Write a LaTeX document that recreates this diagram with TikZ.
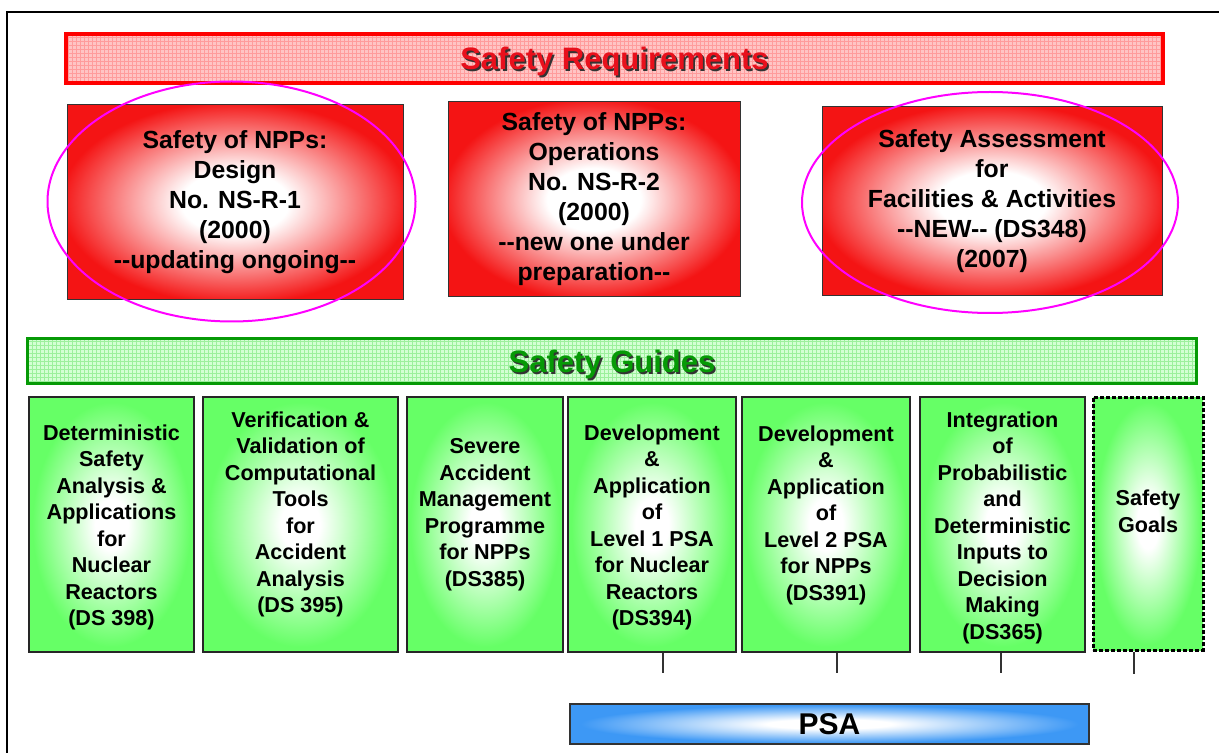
\documentclass[tikz,border=0pt]{standalone}
\usepackage{fontspec}
\setmainfont{Liberation Sans}
\usepackage{xcolor}
\definecolor{reqred}{HTML}{F41414}
\definecolor{reqtitle}{HTML}{E8101C}
\definecolor{reqpink}{HTML}{FFC4C4}
\definecolor{reqgrid}{HTML}{FF9C9C}
\definecolor{guidegreen}{HTML}{66FF66}
\definecolor{guidedark}{HTML}{069A06}
\definecolor{guidepale}{HTML}{D4FFD4}
\definecolor{guidegrid}{HTML}{9CF09C}
\definecolor{psablue}{HTML}{3D98F5}
\definecolor{hilitemag}{HTML}{FF00FF}
\usetikzlibrary{shapes.geometric,patterns.meta}
\pgfdeclareradialshading{reqglow}{\pgfpoint{0bp}{0bp}}{color(0bp)=(white);color(8bp)=(white);color(26bp)=(reqred);color(50bp)=(reqred)}
\pgfdeclareradialshading{guideglow}{\pgfpoint{0bp}{0bp}}{color(0bp)=(white);color(5bp)=(white);color(24bp)=(guidegreen);color(50bp)=(guidegreen)}
\pgfdeclareradialshading{psaglow}{\pgfpoint{0bp}{0bp}}{color(0bp)=(white);color(6bp)=(white);color(24bp)=(psablue);color(50bp)=(psablue)}
\newcommand{\ddash}{-\kern0pt-}
\newcommand{\shadowtitle}[2]{\makebox[0pt][l]{\kern0.9pt\raisebox{-0.9pt}{\color{black!80}#2}}{\color{#1}#2}}
\tikzset{
  reqbanner/.style={draw=red,line width=2pt,preaction={fill=reqpink},pattern={Hatch[angle=0,distance=2pt,line width=0.35pt]},pattern color=reqgrid,minimum width=548.5pt,minimum height=24.5pt,inner sep=0pt,text depth=0pt,font=\bfseries\fontsize{15.5}{18}\selectfont},
  reqbox/.style={draw=black!80,line width=0.5pt,shade,shading=reqglow,align=center,inner sep=2pt,font=\bfseries\fontsize{12.4}{15}\selectfont},
  hilite/.style={ellipse,draw=hilitemag,line width=1pt,inner sep=0pt},
  guidebanner/.style={draw=guidedark,line width=1.5pt,preaction={fill=guidepale},pattern={Hatch[angle=0,distance=2pt,line width=0.35pt]},pattern color=guidegrid,minimum width=584.5pt,minimum height=22.5pt,inner sep=0pt,text depth=0pt,font=\bfseries\fontsize{15.5}{18}\selectfont},
  guidebox/.style={draw=black!85,line width=0.75pt,shade,shading=guideglow,minimum height=127.5pt},
  guidetext/.style={align=center,inner sep=0pt,font=\bfseries\fontsize{10.8}{13.25}\selectfont},
  goalbox/.style={guidebox,draw=black,line width=1.5pt,dash pattern=on 2.2pt off 0.8pt},
  tickline/.style={draw=black!80,line width=0.6pt},
  psabar/.style={draw=black!80,line width=0.6pt,shade,shading=psaglow,minimum width=259.5pt,minimum height=20pt,inner sep=0pt,text depth=0pt,font=\bfseries\fontsize{15}{18}\selectfont},
}
\begin{document}
\begin{tikzpicture}[x=0.5pt,y=-0.5pt]
\useasboundingbox (0,0) rectangle (1219,753);
\draw[line width=1pt] (7,753) -- (7,12) -- (1219,12);
% requirements row
\node[reqbanner] (req) at (614.5,58.5) {\shadowtitle{reqtitle}{Safety Requirements}};
\node[reqbox,minimum width=168pt,minimum height=97.5pt] (nsr1) at (235,202.5) {Safety of NPPs:\\Design\\No. NS-R-1\\(2000)\\\ddash updating ongoing\ddash};
\node[reqbox,minimum width=146pt,minimum height=97.5pt] (nsr2) at (594,199.5) {Safety of NPPs:\\Operations\\No. NS-R-2\\(2000)\\\ddash new one under\\preparation\ddash};
\node[reqbox,minimum width=170pt,minimum height=94.5pt] (ds348) at (992,201.5) {Safety Assessment\\for\\Facilities \& Activities\\\ddash NEW\ddash{} (DS348)\\(2007)};
\node[hilite,minimum width=184pt,minimum height=120pt] (ring1) at (231.5,201.5) {};
\node[hilite,minimum width=188pt,minimum height=110.5pt] (ring2) at (990,202.5) {};
% guides row
\node[guidebanner] (guide) at (612,361) {\shadowtitle{guidedark}{Safety Guides}};
\node[guidebox,minimum width=82.5pt,label={[guidetext,yshift=-1.5pt]center:{Deterministic\\Safety\\Analysis \&\\Applications\\for\\Nuclear\\Reactors\\(DS 398)}}] (ds398) at (111.5,524.5) {};
\node[guidebox,minimum width=97.5pt,label={[guidetext,yshift=5pt]center:{Verification \&\\Validation of\\Computational\\Tools\\for\\Accident\\Analysis\\(DS 395)}}] (ds395) at (300.5,524.5) {};
\node[guidebox,minimum width=78pt,label={[guidetext,yshift=5pt]center:{Severe\\Accident\\Management\\Programme\\for NPPs\\(DS385)}}] (ds385) at (485,524.5) {};
\node[guidebox,minimum width=84pt,label={[guidetext,yshift=-1.5pt]center:{Development\\\&\\Application\\of\\Level 1 PSA\\for Nuclear\\Reactors\\(DS394)}}] (ds394) at (652,524.5) {};
\node[guidebox,minimum width=84pt,label={[guidetext,yshift=4.75pt]center:{Development\\\&\\Application\\of\\Level 2 PSA\\for NPPs\\(DS391)}}] (ds391) at (826,524.5) {};
\node[guidebox,minimum width=82.5pt,label={[guidetext,yshift=-1.5pt]center:{Integration\\of\\Probabilistic\\and\\Deterministic\\Inputs to\\Decision\\Making\\(DS365)}}] (ds365) at (1002.5,524.5) {};
\node[goalbox,minimum width=55pt,minimum height=126.5pt,label={[guidetext,yshift=6pt]center:{Safety\\Goals}}] (goals) at (1148,523.5) {};
\draw[tickline] ([xshift=5.5pt]ds394.south) -- ++(0,20);
\draw[tickline] ([xshift=5.5pt]ds391.south) -- ++(0,20);
\draw[tickline] ([xshift=-0.75pt]ds365.south) -- ++(0,20);
\draw[tickline] ([xshift=-7pt]goals.south) -- ++(0,22);
\node[psabar] (psa) at (829.5,724) {PSA};
\end{tikzpicture}
\end{document}
